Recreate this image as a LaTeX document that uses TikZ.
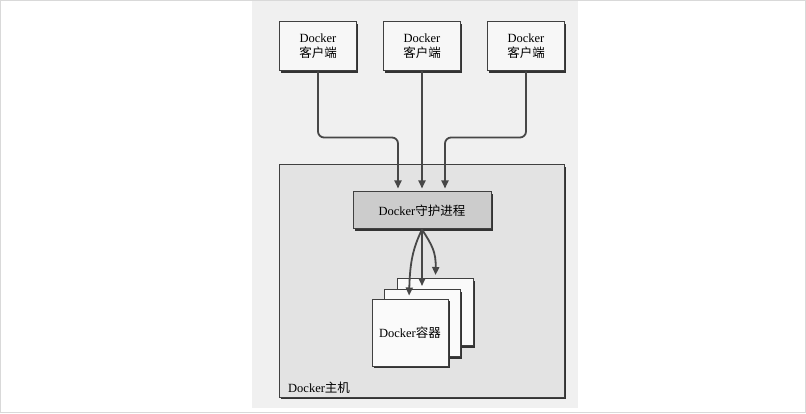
\documentclass[tikz,border=0pt]{standalone}
\usepackage{fontspec}
\setmainfont{Liberation Serif}
\newfontfamily\cjk{Noto Sans CJK SC}
\usetikzlibrary{shadows,arrows.meta}
\begin{document}
\begin{tikzpicture}[x=1pt,y=-1pt,
  box/.style={draw=black!75, line width=1pt, font=\fontsize{12.5}{15}\selectfont, align=center, inner sep=0pt,
    drop shadow={shadow xshift=1.8pt, shadow yshift=-2pt, fill=black!80, opacity=1}},
  client/.style={box, fill=black!3, minimum width=77pt, minimum height=49pt},
  card/.style={box, fill=black!2, minimum width=76pt, minimum height=67pt},
  conn/.style={draw=black!72, line width=1.8pt, -{Triangle[length=8pt,width=7pt]}, rounded corners=6pt, shorten >=3pt}
]
\useasboundingbox (0,0) rectangle (806,414);
\fill[white] (0,0) rectangle (806,414);
\draw[black!15, line width=1pt] (0.5,0.5) rectangle (805.5,412.5);
\fill[black!6] (252,1) rectangle (578,408);
% host
\node[box, fill=black!11, minimum width=285pt, minimum height=232pt] (host) at (421.5,281) {};
\node[anchor=base west, font=\fontsize{12.5}{15}\selectfont, inner sep=0pt] (hl) at (288,392) {Docker{\cjk 主机}};
% clients
\node[client] (c1) at (318,46.5) {Docker\\{\cjk 客户端}};
\node[client] (c2) at (422,46.5) {Docker\\{\cjk 客户端}};
\node[client] (c3) at (526,46.5) {Docker\\{\cjk 客户端}};
% daemon
\node[box, fill=black!20, minimum width=138pt, minimum height=37pt] (d) at (422,210.5) {Docker{\cjk 守护进程}};
% cards
\node[card] (k3) at (435.5,312) {};
\node[card] (k2) at (422,323) {};
\node[card] (k1) at (410,332.5) {Docker{\cjk 容器}};
% connectors
\draw[conn] (c1.south) -- ++(0,66) -| ([xshift=-24pt]d.north);
\draw[conn] (c2.south) -- (d.north);
\draw[conn] (c3.south) -- ++(0,66) -| ([xshift=23pt]d.north);
\draw[conn, rounded corners=0pt] (d.south) .. controls (413,248) and (410,262) .. ([xshift=-1pt]k1.north);
\draw[conn] (d.south) -- (k2.north);
\draw[conn, rounded corners=0pt] (d.south) .. controls (432,245) and (436,252) .. (k3.north);
\end{tikzpicture}
\end{document}
